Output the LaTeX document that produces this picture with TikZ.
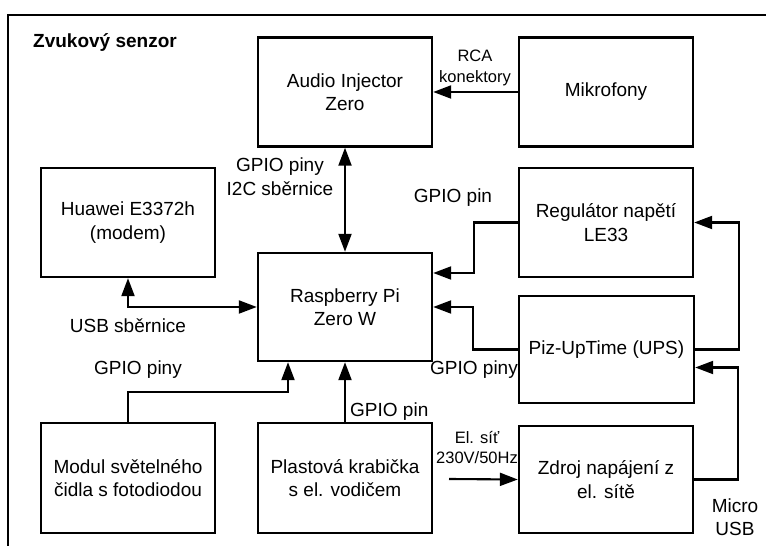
\documentclass[tikz,border=0pt]{standalone}
\usepackage{fontspec}
\setmainfont{Liberation Sans}
\usetikzlibrary{arrows.meta}
\usetikzlibrary{positioning}
\usetikzlibrary{calc}

\begin{document}
\begin{tikzpicture}[x=1pt, y=1pt,
  block/.style={draw, rectangle, line width=2.4pt, minimum width=174pt, minimum height=109pt, align=center, inner sep=0pt, font=\fontsize{19pt}{23.5pt}\selectfont},
  tag/.style={inner sep=0pt, align=center, font=\fontsize{19pt}{23.5pt}\selectfont},
  smalltag/.style={inner sep=0pt, align=center, font=\fontsize{16.5pt}{20.5pt}\selectfont},
  link/.style={line width=2.1pt, -{Triangle[length=18pt, width=13pt]}},
  duallink/.style={line width=2.1pt, {Triangle[length=18pt, width=13pt]}-{Triangle[length=18pt, width=13pt]}}]
%\draw[step=20pt, very thin, red] (0,0) grid (766,546);
\useasboundingbox (0,0) rectangle (766,546);
\draw[line width=2.6pt] (772,531) -- (8,531) -- (8,-6);

\node[tag, font=\fontsize{19pt}{23.5pt}\selectfont\bfseries, anchor=west] (titel) at (33,503) {Zvukový senzor};

\node[block] (audioinjector) at (345,454) {Audio Injector\\Zero};
\node[block] (mikrofony) at (606,454) {Mikrofony};
\node[block] (huawei) at (128,323.5) {Huawei E3372h\\(modem)};
\node[block, minimum height=108pt] (raspberry) at (345,239) {Raspberry Pi\\Zero W};
\node[block] (regulator) at (606,323.5) {Regulátor napětí\\LE33};
\node[block, minimum width=175pt, minimum height=107pt] (uptime) at (606.5,196.5) {Piz-UpTime (UPS)};
\node[block, minimum height=110pt] (modul) at (128,68) {Modul světelného\\čidla s fotodiodou};
\node[block, minimum height=110pt] (krabicka) at (345,68) {Plastová krabička\\s el. vodičem};
\node[block, minimum height=107pt] (zdroj) at (606,66.5) {Zdroj napájení z\\el. sítě};

\draw[link] (mikrofony) -- (audioinjector);
\node[smalltag] (rca) at (475,478) {RCA\\konektory};

\draw[duallink] (audioinjector) -- (raspberry);
\node[tag] (i2c) at (280,369.5) {GPIO piny\\I2C sběrnice};

\draw[duallink] (huawei.south) |- (raspberry.west);
\node[tag] (usb) at (128,220) {USB sběrnice};

\draw[link] (modul.north) -- ++(0,30) -| ($ (raspberry.south) + (-57,0) $);
\node[tag] (gpiomodul) at (138,176) {GPIO piny};

\draw[link] (krabicka) -- (raspberry);
\node[tag, anchor=west] (gpiokrabicka) at (350,134) {GPIO pin};

\draw[link] (regulator.west) -- ++(-44,0) |- ($ (raspberry.east) + (0,34) $);
\node[tag] (gpioregulator) at (453,348) {GPIO pin};

\draw[link] (uptime.west) -- ++(-44.5,0) |- (raspberry.east);
\node[tag, anchor=east] (gpiouptime) at (518,176) {GPIO piny};

\draw[link] (uptime.east) -- ++(44,0) |- (regulator.east);
\draw[link] (zdroj.east) -- ++(44,0) |- ($ (uptime.east) + (0,-18) $);
\node[tag] (microusb) at (735,29) {Micro\\USB};

\coordinate (sit) at (449,67);
\draw[link] (sit) -- (zdroj.west);
\node[smalltag] (napeti) at (477,98.5) {El. síť\\230V/50Hz};
\end{tikzpicture}
\end{document}
